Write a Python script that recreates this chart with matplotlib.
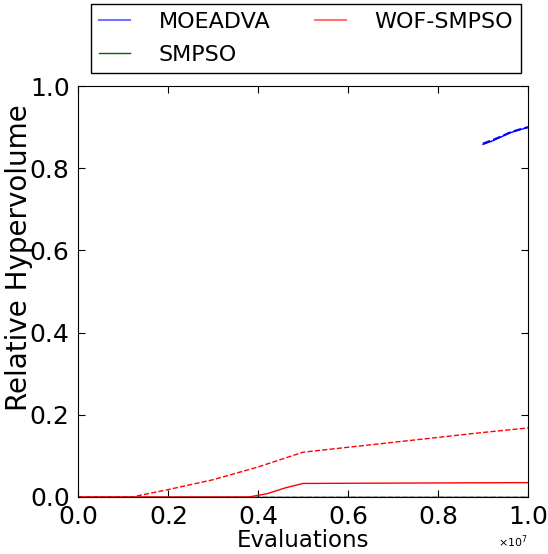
import matplotlib
matplotlib.use("Agg")
import matplotlib.pyplot as plt
from matplotlib.lines import Line2D
from matplotlib.ticker import ScalarFormatter

# data
moeadva_x = [0.90e7, 0.92e7, 0.94e7, 0.96e7, 0.98e7, 1.0e7]
moeadva_solid = [0.858, 0.866, 0.876, 0.886, 0.893, 0.899]
moeadva_dash = [0.860, 0.868, 0.877, 0.887, 0.894, 0.900]
smpso_x = [0.0, 1.0e7]
smpso_y = [0.0, 0.0]
wof_dash_x = [0.0, 0.12e7, 0.2e7, 0.3e7, 0.4e7, 0.5e7, 0.6e7, 0.7e7, 0.8e7, 0.9e7, 1.0e7]
wof_dash_y = [0.0, 0.0, 0.018, 0.042, 0.073, 0.109, 0.121, 0.133, 0.145, 0.157, 0.168]
wof_solid_x = [0.0, 0.38e7, 0.42e7, 0.46e7, 0.5e7, 0.75e7, 1.0e7]
wof_solid_y = [0.0, 0.0, 0.008, 0.022, 0.033, 0.034, 0.035]
labels = ['MOEADVA', 'SMPSO', 'WOF-SMPSO']

plt.rcParams['font.family'] = ['DejaVu Sans']
fig = plt.figure(figsize=(5.48, 5.54), dpi=100)
ax = fig.add_axes([78/548, 1 - 497/554, 450/548, 411/554])

ax.plot(smpso_x, smpso_y, color='black', lw=1.0)
ax.plot(smpso_x, smpso_y, color='black', lw=1.0, ls='--')
ax.plot(wof_solid_x, wof_solid_y, color='red', lw=1.0)
ax.plot(wof_dash_x, wof_dash_y, color='red', lw=1.0, ls='--')
ax.plot(moeadva_x, moeadva_solid, color='blue', lw=1.0)
ax.plot(moeadva_x, moeadva_dash, color='blue', lw=1.5, ls='--')

ax.set_xlim(0, 1.0e7)
ax.set_ylim(0, 1.0)
ax.set_xticks([0, 0.2e7, 0.4e7, 0.6e7, 0.8e7, 1.0e7])
ax.set_yticks([0, 0.2, 0.4, 0.6, 0.8, 1.0])
fmt = ScalarFormatter(useMathText=True)
fmt.set_powerlimits((0, 0))
ax.xaxis.set_major_formatter(fmt)
ax.tick_params(direction='in', top=True, right=True, labelsize=18, length=5, pad=6)
ax.xaxis.get_offset_text().set_fontsize(8)
ax.set_xlabel('Evaluations', fontsize=16.5, labelpad=0)
ax.set_ylabel('Relative Hypervolume', fontsize=20)
ax.yaxis.set_label_coords(-0.10, 0.583)

handles = [Line2D([], [], color='blue', alpha=0.55, lw=1.5),
           Line2D([], [], color='darkgreen', lw=1.0),
           Line2D([], [], color='red', alpha=0.55, lw=1.5)]
leg = fig.legend(handles, labels, ncol=2, fontsize=16, loc='lower left',
                 bbox_to_anchor=(91/548, 1 - 73/554, 430/548, 69/554),
                 mode='expand', fancybox=False, edgecolor='black', framealpha=1,
                 handlelength=1.4, handletextpad=1.3, columnspacing=2.6,
                 borderaxespad=0, borderpad=0.35, labelspacing=0.6)
leg.get_frame().set_linewidth(1.0)
fig.savefig('out.png', dpi=100)
